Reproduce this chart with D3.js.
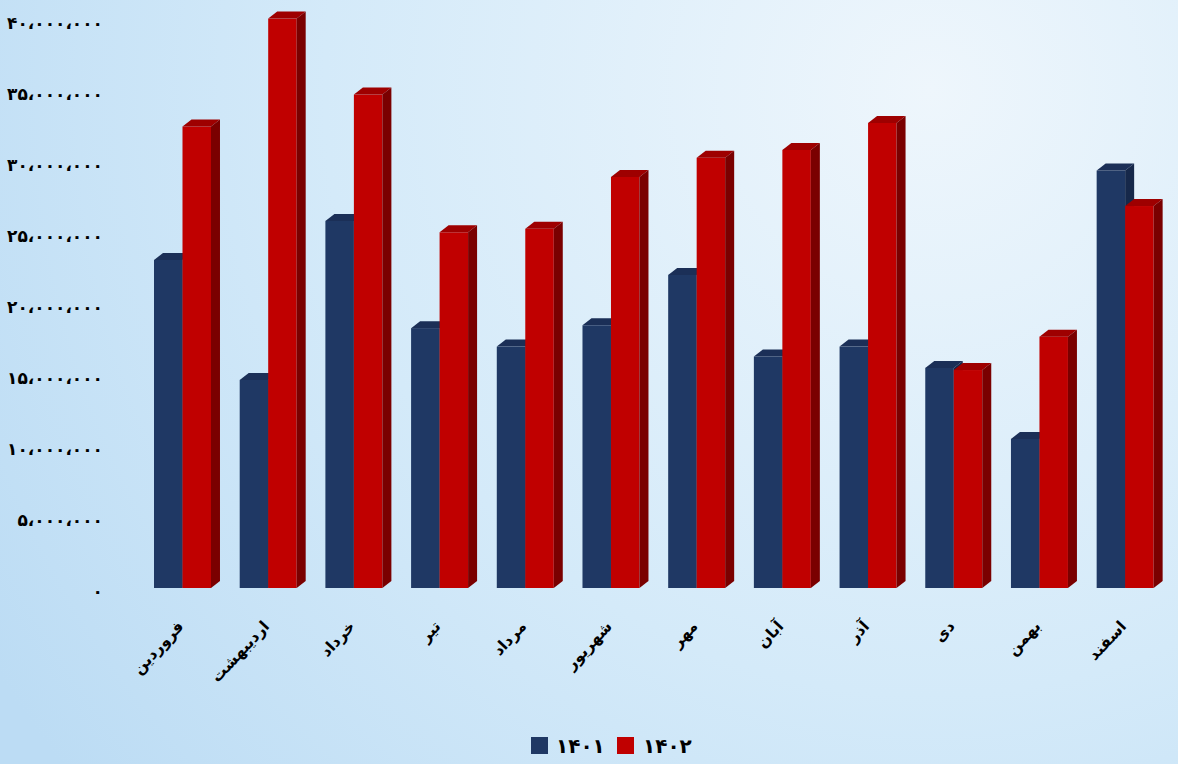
<!DOCTYPE html>
<html lang="fa">
<head>
<meta charset="utf-8">
<script src="https://cdn.jsdelivr.net/npm/d3@7/dist/d3.min.js"></script>
<style>
  html, body { margin: 0; padding: 0; }
  body { width: 1178px; height: 764px; overflow: hidden; }
  svg { display: block; font-family: "DejaVu Sans", sans-serif; }
</style>
</head>
<body>
<svg id="chart" width="1178" height="764"></svg>
<script>
// Monthly totals for two Persian years (values in rial)
const months = ["فروردین", "اردیبهشت", "خرداد", "تیر", "مرداد", "شهریور",
                "مهر", "آبان", "آذر", "دی", "بهمن", "اسفند"];
const seriesNames = ["۱۴۰۱", "۱۴۰۲"];
const values1401 = [23.1e6, 14.65e6, 25.85e6, 18.3e6, 17.0e6, 18.5e6,
                    22.05e6, 16.3e6, 17.0e6, 15.5e6, 10.5e6, 29.4e6];
const values1402 = [32.5e6, 40.1e6, 34.75e6, 25.05e6, 25.3e6, 28.95e6,
                    30.3e6, 30.85e6, 32.75e6, 15.35e6, 17.7e6, 26.9e6];
const yTicks = [0, 5e6, 10e6, 15e6, 20e6, 25e6, 30e6, 35e6, 40e6];
const yTickLabels = ["۰", "۵،۰۰۰،۰۰۰", "۱۰،۰۰۰،۰۰۰", "۱۵،۰۰۰،۰۰۰", "۲۰،۰۰۰،۰۰۰",
                     "۲۵،۰۰۰،۰۰۰", "۳۰،۰۰۰،۰۰۰", "۳۵،۰۰۰،۰۰۰", "۴۰،۰۰۰،۰۰۰"];

const palette = {
  "۱۴۰۱": { front: "#1f3864", top: "#1b2f57", side: "#16284a" },
  "۱۴۰۲": { front: "#c00000", top: "#9e0000", side: "#7a0000" }
};
const depthX = 9, depthY = 7;

const svg = d3.select("#chart");

// background wash
const defs = svg.append("defs");
const grad = defs.append("radialGradient")
  .attr("id", "bg").attr("gradientUnits", "userSpaceOnUse")
  .attr("cx", 930).attr("cy", 90).attr("r", 1100);
grad.append("stop").attr("offset", "0").attr("stop-color", "#eef6fc");
grad.append("stop").attr("offset", "0.55").attr("stop-color", "#d4eaf9");
grad.append("stop").attr("offset", "1").attr("stop-color", "#bcdcf4");
svg.append("rect").attr("width", 1178).attr("height", 764).attr("fill", "url(#bg)");

const x = d3.scaleBand().domain(months).range([139.65, 1168])
  .paddingInner(0.335).paddingOuter(0.1675);
const xs = d3.scaleBand().domain(seriesNames).range([0, x.bandwidth()]);
const y = d3.scaleLinear().domain([0, 40e6]).range([588, 20]);

// y axis
const yAxis = svg.append("g").attr("transform", "translate(103,3)")
  .call(d3.axisLeft(y).tickValues(yTicks)
    .tickFormat((d, i) => yTickLabels[i]).tickSize(0).tickPadding(0));
yAxis.select(".domain").remove();
yAxis.selectAll("text")
  .attr("fill", "#000").attr("font-size", 17).attr("font-weight", "bold")
  .attr("font-family", "DejaVu Sans").attr("letter-spacing", "-1.5");

// 3D bars
const rows = months.map((m, i) => ({ month: m, vals: [values1401[i], values1402[i]] }));
const groups = svg.append("g").selectAll("g").data(rows).join("g");
groups.each(function (d) {
  const g = d3.select(this);
  d.vals.forEach((v, si) => {
    const name = seriesNames[si];
    const c = palette[name];
    const x0 = x(d.month) + xs(name), w = xs.bandwidth();
    const yt = y(v), yb = y(0);
    g.append("rect").attr("x", x0).attr("y", yt).attr("width", w).attr("height", yb - yt)
      .attr("fill", c.front);
    g.append("polygon").attr("fill", c.top).attr("points", [
      [x0, yt], [x0 + depthX, yt - depthY], [x0 + w + depthX, yt - depthY], [x0 + w, yt]
    ].join(" "));
    g.append("polygon").attr("fill", c.side).attr("points", [
      [x0 + w, yt], [x0 + w + depthX, yt - depthY], [x0 + w + depthX, yb - depthY], [x0 + w, yb]
    ].join(" "));
  });
});

// month labels
svg.append("g").selectAll("text").data(months).join("text")
  .attr("transform", m => `translate(${x(m) + x.bandwidth() / 2 + 2},627) rotate(-47)`)
  .attr("text-anchor", "end")
  .attr("font-size", 15.5).attr("font-weight", "bold").attr("fill", "#000")
  .text(m => m);

// legend
const legendItems = [
  { name: seriesNames[0], box: 531, label: 556 },
  { name: seriesNames[1], box: 617, label: 643 }
];
const legend = svg.append("g");
legend.selectAll("rect").data(legendItems).join("rect")
  .attr("x", d => d.box).attr("y", 737).attr("width", 17).attr("height", 17)
  .attr("fill", d => palette[d.name].front);
legend.selectAll("text").data(legendItems).join("text")
  .attr("x", d => d.label).attr("y", 753)
  .attr("font-size", 20).attr("font-weight", "bold").attr("fill", "#000")
  .attr("letter-spacing", "-1.5")
  .text(d => d.name);
</script>
</body>
</html>
